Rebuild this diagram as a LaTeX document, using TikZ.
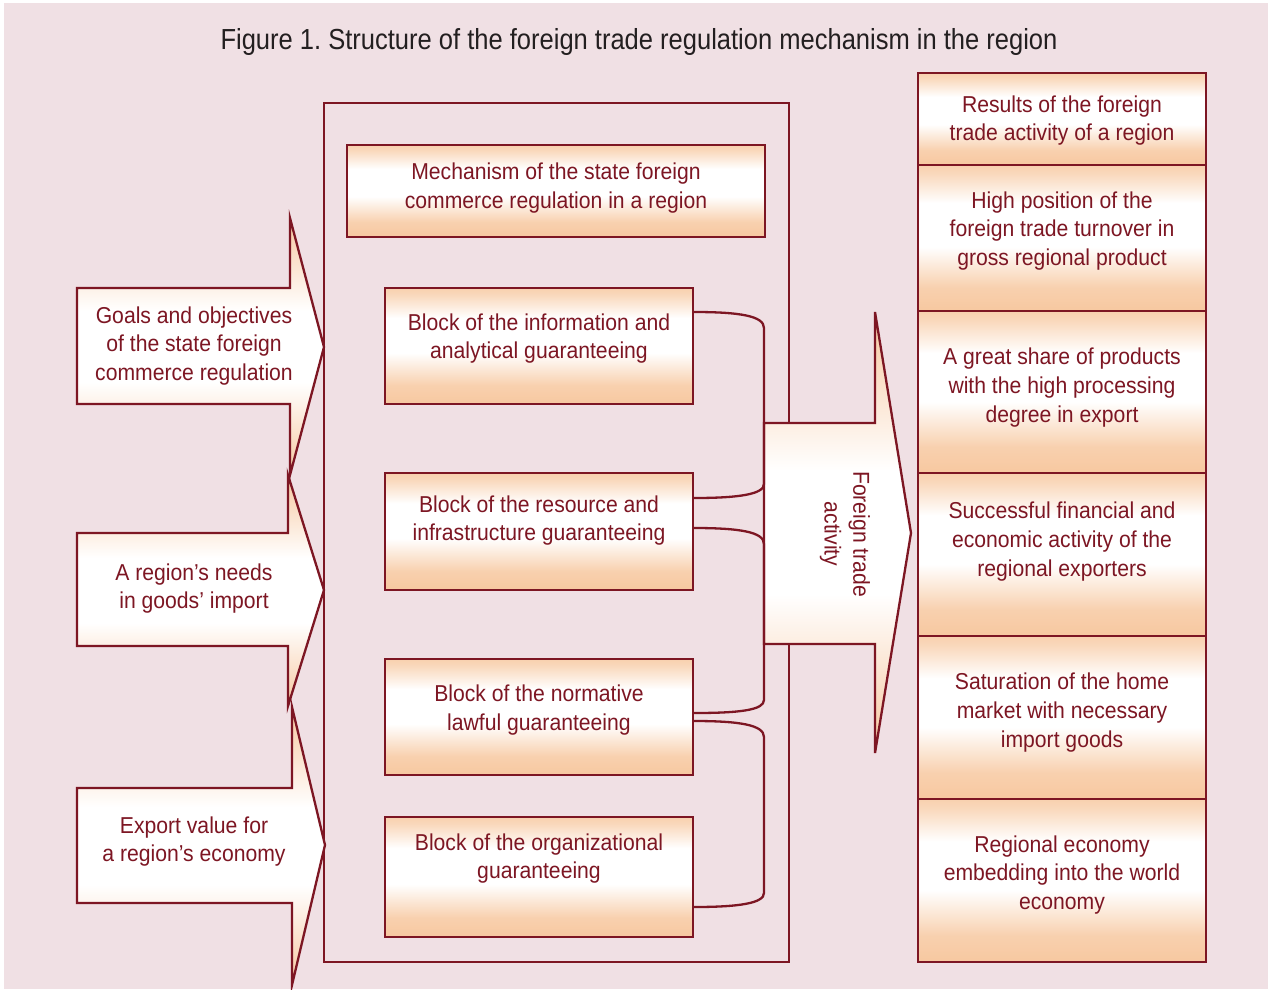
\documentclass[tikz,border=0pt]{standalone}
\usepackage{fontspec}
\newfontfamily\bodyfont[FakeStretch=0.92]{Liberation Sans}
\newfontfamily\titlefont[FakeStretch=0.88]{Liberation Sans}
\usetikzlibrary{calc}
\definecolor{bg}{RGB}{240,224,228}
\definecolor{peach}{RGB}{247,200,160}
\colorlet{peachA}{peach!85!white}
\colorlet{peachB}{peach!70!white}
\definecolor{dred}{RGB}{125,22,35}
\definecolor{ttl}{RGB}{35,31,32}
\pgfdeclareverticalshading{boxsh}{100bp}{color(0bp)=(peach); color(25bp)=(peach); color(33bp)=(peachA); color(47bp)=(white); color(62bp)=(white); color(72bp)=(peachB); color(75bp)=(peachA); color(100bp)=(peachA)}
\pgfdeclareverticalshading{arrsh}{100bp}{color(0bp)=(peach); color(25bp)=(peach); color(43bp)=(white); color(57bp)=(white); color(75bp)=(peach); color(100bp)=(peach)}
\begin{document}
\begin{tikzpicture}[x=1pt,y=-1pt,
  box/.style={draw=dred, line width=2.3pt, shading=boxsh, inner sep=0pt},
  arr/.style={draw=dred, line width=2.3pt, shading=arrsh, line join=miter},
  conn/.style={draw=dred, line width=2.3pt},
  txt/.style={text=dred, font=\bodyfont\fontsize{23}{28.8}\selectfont, align=center, inner sep=0pt}]
\useasboundingbox (0,0) rectangle (1268,989);
\fill[white] (0,0) rectangle (1268,989);
\fill[bg] (4,3) rectangle (1268,989);

\node[font=\titlefont\fontsize{29}{34}\selectfont, text=ttl, inner sep=0pt] (title) at (639,41.5) {Figure 1.\ Structure of the foreign trade regulation mechanism in the region};

% outer frame
\node[draw=dred, line width=2.3pt, minimum width=465pt, minimum height=859pt, inner sep=0pt] (outer) at (556.5,532.5) {};

% left arrows
\path[arr] (77,288) -- (290,288) -- (290,218) -- (324,347) -- (290,475) -- (290,404) -- (77,404) -- cycle;
\path[arr] (77,533) -- (288,533) -- (288,475) -- (324,590) -- (288,706) -- (288,646) -- (77,646) -- cycle;
\path[arr] (77,788) -- (292,788) -- (292,707) -- (325,845) -- (292,985) -- (292,903) -- (77,903) -- cycle;

% big arrow
\path[arr] (764,423) -- (875,423) -- (875,312) -- (911,533) -- (875,753) -- (875,644) -- (764,644) -- cycle;

% boxes
\node[box, minimum width=418pt, minimum height=92pt] (mech) at (556,191) {};
\node[box, minimum width=308pt, minimum height=116pt] (b1) at (539,346) {};
\node[box, minimum width=308pt, minimum height=117pt] (b2) at (539,531.5) {};
\node[box, minimum width=308pt, minimum height=116pt] (b3) at (539,717) {};
\node[box, minimum width=308pt, minimum height=120pt] (b4) at (539,877) {};

\node[box, minimum width=288pt, minimum height=92pt] (r1) at (1062,119) {};
\node[box, minimum width=288pt, minimum height=146pt] (r2) at (1062,238) {};
\node[box, minimum width=288pt, minimum height=162pt] (r3) at (1062,392) {};
\node[box, minimum width=288pt, minimum height=163pt] (r4) at (1062,554.5) {};
\node[box, minimum width=288pt, minimum height=163pt] (r5) at (1062,717.5) {};
\node[box, minimum width=288pt, minimum height=163pt] (r6) at (1062,880.5) {};

% brackets
\coordinate (bx) at (764,0);
\draw[conn] (b1.east |- 0,312) .. controls (740,312) and (764,316) .. (bx |- 0,328) -- (bx |- 0,484) .. controls (764,494) and (740,498) .. (b2.east |- 0,498);
\draw[conn] (b2.east |- 0,528) .. controls (740,528) and (764,532) .. (bx |- 0,544) -- (bx |- 0,700) .. controls (764,710) and (740,713) .. (b3.east |- 0,713);
\draw[conn] (b3.east |- 0,721) .. controls (740,721) and (764,725) .. (bx |- 0,737) -- (bx |- 0,893) .. controls (764,903) and (740,907) .. (b4.east |- 0,907);

% texts
\node[txt] (tmech) at (556,188) {Mechanism of the state foreign\\commerce regulation in a region};
\node[txt] (tb1) at (539,338.5) {Block of the information and\\analytical guaranteeing};
\node[txt] (tb2) at (539,520.5) {Block of the resource and\\infrastructure guaranteeing};
\node[txt] (tb3) at (539,710) {Block of the normative\\lawful guaranteeing};
\node[txt] (tb4) at (539,858.5) {Block of the organizational\\guaranteeing};

\node[txt] (tr1) at (1062,120.5) {Results of the foreign\\trade activity of a region};
\node[txt] (tr2) at (1062,231) {High position of the\\foreign trade turnover in\\gross regional product};
\node[txt] (tr3) at (1062,387.5) {A great share of products\\with the high processing\\degree in export};
\node[txt] (tr4) at (1062,541.5) {Successful financial and\\economic activity of the\\regional exporters};
\node[txt] (tr5) at (1062,712.5) {Saturation of the home\\market with necessary\\import goods};
\node[txt] (tr6) at (1062,875) {Regional economy\\embedding into the world\\economy};

\node[txt] (ta1) at (194,346) {Goals and objectives\\of the state foreign\\commerce regulation};
\node[txt] (ta2) at (194,588.5) {A region’s needs\\in goods’ import};
\node[txt] (ta3) at (194,841.5) {Export value for\\a region’s economy};

\node[txt, rotate=-90] (tbig) at (845,534) {Foreign trade\\activity};
\end{tikzpicture}
\end{document}
